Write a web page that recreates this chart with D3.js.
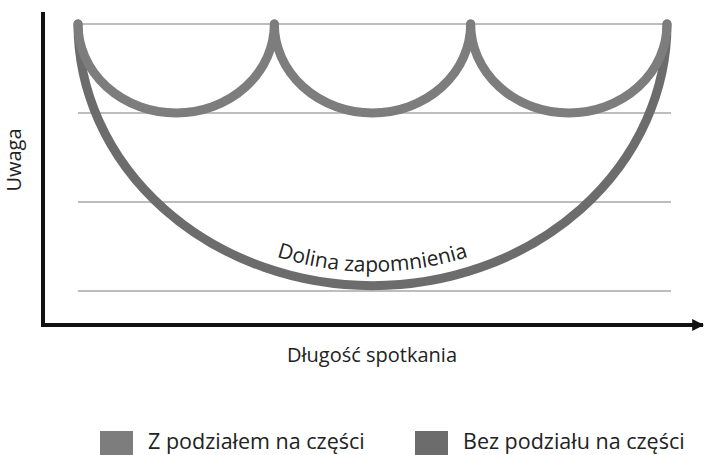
<!DOCTYPE html>
<html>
<head>
<meta charset="utf-8">
<script src="https://cdn.jsdelivr.net/npm/d3@7"></script>
<style>
  body { margin: 0; background: #fff; }
  svg { display: block; font-family: "Open Sans", "Noto Sans", sans-serif; }
</style>
</head>
<body>
<div id="viz"></div>
<script>
// chart values
var gridLevels = [1, 2, 3, 4];          // attention levels with gridlines
var splitBounds = [0, 20, 40, 60];      // meeting split into parts (minutes)
var topLevel = 4;                        // attention at start of each part
var splitMin = 3;                        // lowest attention within a part
var wholeMin = 1.06;                     // lowest attention without split
var seriesNames = ["Z podziałem na części", "Bez podziału na części"];
var seriesColors = ["#7d7d7d", "#6c6c6c"];

var width = 705, height = 455;

var svg = d3.select("#viz").append("svg")
  .attr("width", width)
  .attr("height", height);

var x = d3.scaleLinear().domain([0, 60]).range([78, 667]);
var y = d3.scaleLinear().domain([1, 4]).range([291, 24]);

// half-ellipse from a to b dipping to level lo
function dip(a, b, hi, lo, inset) {
  inset = inset || 0;
  var x0 = x(a) + inset, x1 = x(b) - inset;
  var rx = (x1 - x0) / 2, ry = y(lo) - y(hi) - inset;
  return "M" + x0 + "," + y(hi) + " A" + rx + "," + ry + " 0 0 0 " + x1 + "," + y(hi);
}

// gridlines
svg.selectAll("line.grid")
  .data(gridLevels)
  .enter()
  .append("line")
  .attr("class", "grid")
  .attr("x1", x(0))
  .attr("x2", x(60) + 4)
  .attr("y1", function(d) { return y(d); })
  .attr("y2", function(d) { return y(d); })
  .attr("stroke", "#bdbdbd")
  .attr("stroke-width", 2);

// axes
svg.append("defs").append("marker")
  .attr("id", "arrow")
  .attr("viewBox", "0 0 10 10")
  .attr("refX", 9).attr("refY", 5)
  .attr("markerWidth", 3).attr("markerHeight", 3)
  .attr("markerUnits", "strokeWidth")
  .attr("orient", "auto")
  .append("path")
  .attr("d", "M0,0 L10,5 L0,10 z")
  .attr("fill", "#111");

svg.append("line")
  .attr("x1", 43).attr("x2", 43)
  .attr("y1", 12).attr("y2", 327)
  .attr("stroke", "#111").attr("stroke-width", 4);

svg.append("line")
  .attr("x1", 41).attr("x2", 703)
  .attr("y1", 325).attr("y2", 325)
  .attr("stroke", "#111").attr("stroke-width", 4)
  .attr("marker-end", "url(#arrow)");

// whole meeting curve
svg.append("path")
  .attr("d", dip(splitBounds[0], splitBounds[splitBounds.length - 1], topLevel, wholeMin))
  .attr("fill", "none")
  .attr("stroke", seriesColors[1])
  .attr("stroke-width", 9)
  .attr("stroke-linecap", "round");

// split meeting curves
var parts = d3.pairs(splitBounds);
svg.selectAll("path.part")
  .data(parts)
  .enter()
  .append("path")
  .attr("class", "part")
  .attr("d", function(d) { return dip(d[0], d[1], topLevel, splitMin); })
  .attr("fill", "none")
  .attr("stroke", seriesColors[0])
  .attr("stroke-width", 9)
  .attr("stroke-linecap", "round");

// label along the valley
svg.append("path")
  .attr("id", "valley")
  .attr("d", dip(splitBounds[0], splitBounds[splitBounds.length - 1], topLevel, wholeMin, 14))
  .attr("fill", "none");

svg.append("text")
  .attr("font-size", 21)
  .attr("fill", "#222")
  .append("textPath")
  .attr("href", "#valley")
  .attr("startOffset", "50%")
  .attr("text-anchor", "middle")
  .text("Dolina zapomnienia");

// axis titles
svg.append("text")
  .attr("transform", "translate(21,160) rotate(-90)")
  .attr("text-anchor", "middle")
  .attr("font-size", 20)
  .attr("fill", "#222")
  .text("Uwaga");

svg.append("text")
  .attr("x", 372).attr("y", 362)
  .attr("text-anchor", "middle")
  .attr("font-size", 20)
  .attr("fill", "#222")
  .text("Długość spotkania");

// legend
var legendX = [100, 415];
var legend = svg.selectAll("g.legend")
  .data(seriesNames)
  .enter()
  .append("g")
  .attr("class", "legend")
  .attr("transform", function(d, i) { return "translate(" + legendX[i] + ",431)"; });

legend.append("rect")
  .attr("width", 33).attr("height", 24)
  .attr("fill", function(d, i) { return seriesColors[i]; });

legend.append("text")
  .attr("x", 48).attr("y", 18)
  .attr("font-size", 21.5)
  .attr("fill", "#222")
  .text(function(d) { return d; });
</script>
</body>
</html>
